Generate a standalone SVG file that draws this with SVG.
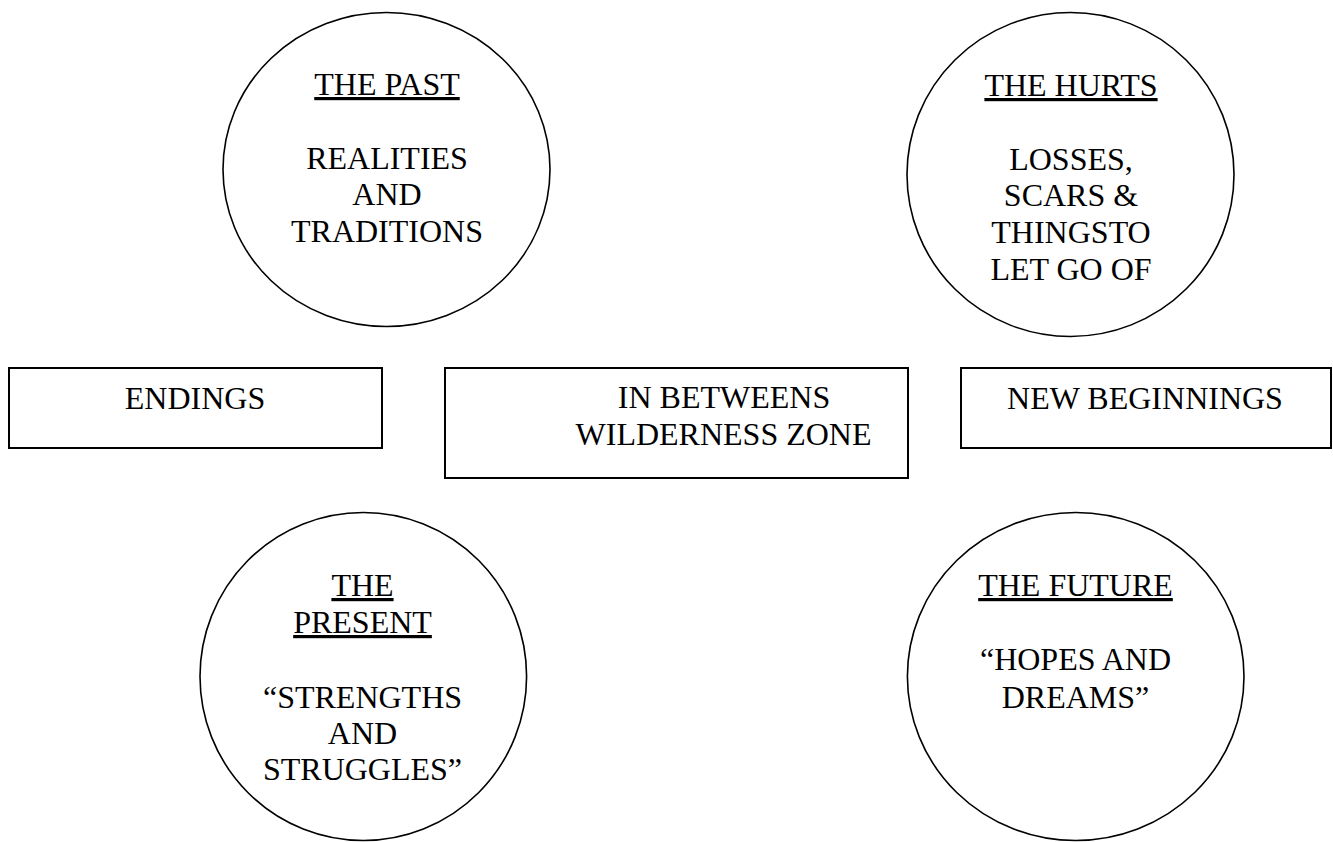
<svg xmlns="http://www.w3.org/2000/svg" width="1333" height="842" viewBox="0 0 1333 842">
  <style>
    .circ { fill: #ffffff; stroke: #000000; stroke-width: 1.6; }
    .box { fill: #ffffff; stroke: #000000; stroke-width: 2; }
    text { font-family: "Liberation Serif", "Times New Roman", serif; font-size: 32px; fill: #000000; text-anchor: middle; }
    .u { text-decoration: underline; }
  </style>
  <rect x="0" y="0" width="1333" height="842" fill="#ffffff"/>
  <g id="connectors"></g>

  <g id="the-past">
    <ellipse class="circ" cx="386.5" cy="169.5" rx="163.5" ry="157"/>
    <text x="387" y="95" class="u">THE PAST</text>
    <text x="387" y="169">REALITIES</text>
    <text x="387" y="205">AND</text>
    <text x="387" y="242">TRADITIONS</text>
  </g>

  <g id="the-hurts">
    <ellipse class="circ" cx="1070.5" cy="174.5" rx="163.5" ry="162"/>
    <text x="1071" y="96" class="u">THE HURTS</text>
    <text x="1071" y="170">LOSSES,</text>
    <text x="1071" y="206">SCARS &amp;</text>
    <text x="1071" y="243">THINGSTO</text>
    <text x="1071" y="280">LET GO OF</text>
  </g>

  <g id="endings">
    <rect class="box" x="9" y="368" width="373" height="80"/>
    <text x="195" y="409">ENDINGS</text>
  </g>

  <g id="in-betweens">
    <rect class="box" x="445" y="368" width="463" height="110"/>
    <text x="724" y="408">IN BETWEENS</text>
    <text x="723.5" y="445">WILDERNESS ZONE</text>
  </g>

  <g id="new-beginnings">
    <rect class="box" x="961" y="368" width="370" height="80"/>
    <text x="1145" y="409">NEW BEGINNINGS</text>
  </g>

  <g id="the-present">
    <ellipse class="circ" cx="363.3" cy="676.5" rx="163.3" ry="164"/>
    <text x="362.5" y="596" class="u">THE</text>
    <text x="362.5" y="633" class="u">PRESENT</text>
    <text x="362.5" y="708">“STRENGTHS</text>
    <text x="362.5" y="744">AND</text>
    <text x="362.5" y="780">STRUGGLES”</text>
  </g>

  <g id="the-future">
    <ellipse class="circ" cx="1075.7" cy="676.5" rx="168.3" ry="164"/>
    <text x="1075.5" y="596" class="u">THE FUTURE</text>
    <text x="1075.5" y="670">“HOPES AND</text>
    <text x="1075.5" y="708">DREAMS”</text>
  </g>
</svg>
